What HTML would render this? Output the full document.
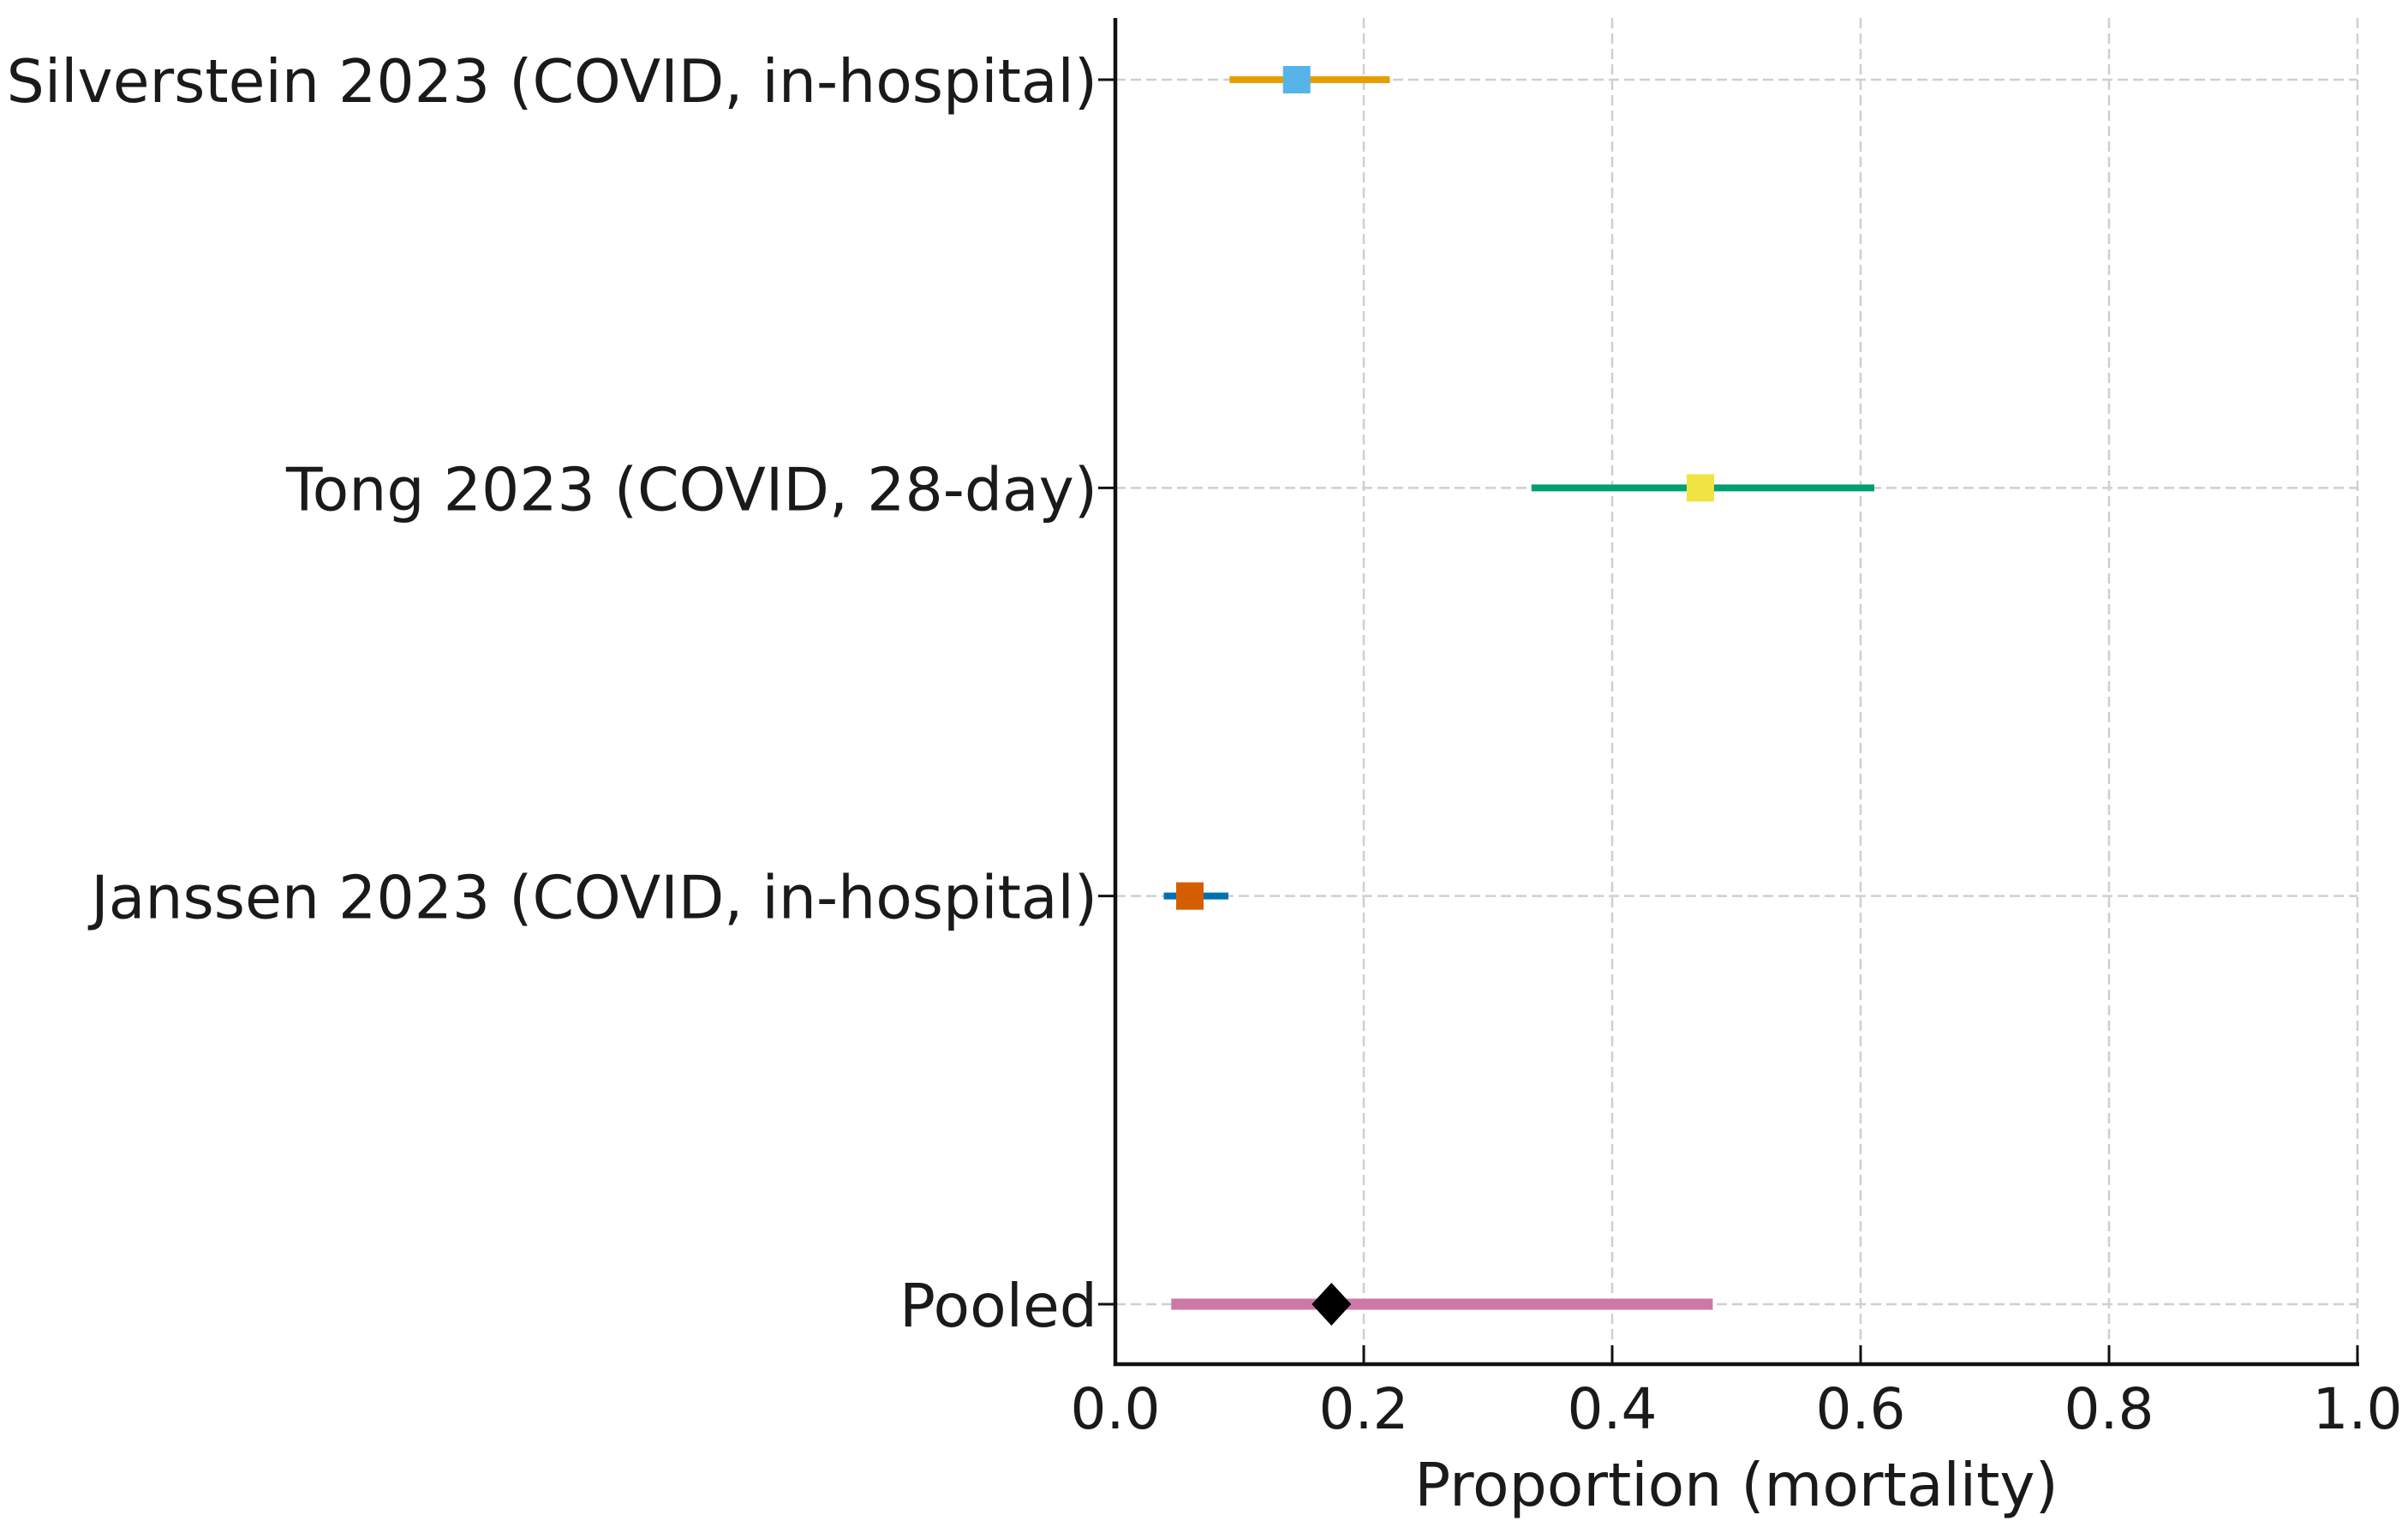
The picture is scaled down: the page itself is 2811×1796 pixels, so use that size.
<!DOCTYPE html>
<html><head><meta charset="utf-8"><style>
html,body{margin:0;padding:0;background:#fff;}
svg text{font-family:"DejaVu Sans","Liberation Sans",sans-serif;fill:#1a1a1a;}
</style></head><body>
<svg id="chart" width="2811" height="1791" viewBox="0 0 2811 1791" xmlns="http://www.w3.org/2000/svg"></svg>
<script>
const studies = ["Silverstein 2023 (COVID, in-hospital)","Tong 2023 (COVID, 28-day)","Janssen 2023 (COVID, in-hospital)","Pooled"];
const estimates = [0.146, 0.471, 0.060, 0.174];
const lowerCI = [0.092, 0.335, 0.039, 0.045];
const upperCI = [0.221, 0.611, 0.091, 0.481];
const lineColors = ["#E69F00","#009E73","#0072B2","#CC79A7"];
const markerColors = ["#56B4E9","#F0E442","#D55E00","#000000"];
const xTicks = [0,0.2,0.4,0.6,0.8,1.0];
const xTickLabels = ["0.0","0.2","0.4","0.6","0.8","1.0"];

const svg = document.getElementById('chart');
const NS = "http://www.w3.org/2000/svg";
const X0 = 1302, X1 = 2752, YTOP = 21, YBOT = 1592;
const rowY = [93, 570, 1045, 1522];
function xs(v){ return X0 + v*(X1-X0); }
function ys(i){ return rowY[0] + i*(rowY[3]-rowY[0])/(studies.length-1); }
function mk(tag, attrs){ const e=document.createElementNS(NS,tag); for(const k in attrs) e.setAttribute(k,attrs[k]); svg.appendChild(e); return e; }

xTicks.forEach((t,i)=>{
  const g = mk('line',{x1:xs(t),x2:xs(t),y1:YTOP,y2:YBOT,stroke:'#cfcfcf','stroke-width':2.5,'stroke-dasharray':'12,6'});
  
  
});
studies.forEach((s,i)=>{
  const g = mk('line',{x1:X0,x2:X1,y1:ys(i),y2:ys(i),stroke:'#cfcfcf','stroke-width':2.5,'stroke-dasharray':'12,6'});
  
  
});
let a = mk('line',{x1:X0,x2:X0,y1:YTOP,y2:YBOT+2,stroke:'#111','stroke-width':4.5});


a = mk('line',{x1:X0-2,x2:X1+2,y1:YBOT,y2:YBOT,stroke:'#111','stroke-width':4.5});


xTicks.forEach((t,i)=>{
  const tk = mk('line',{x1:xs(t),x2:xs(t),y1:YBOT,y2:YBOT-22,stroke:'#111','stroke-width':3});
  
  
  const tl = mk('text',{x:xs(t),y:1667,'font-size':66,'text-anchor':'middle'});
  tl.textContent = xTickLabels[i];
  
  
});
studies.forEach((s,i)=>{
  const tk = mk('line',{x1:X0-20,x2:X0,y1:ys(i),y2:ys(i),stroke:'#111','stroke-width':3});
  
  
  const tl = mk('text',{x:1281,y:ys(i)+26,'font-size':69.6,'text-anchor':'end'});
  tl.textContent = s;
  
  
});
studies.forEach((s,i)=>{
  const y = ys(i);
  const ci = mk('line',{x1:xs(lowerCI[i]),x2:xs(upperCI[i]),y1:y,y2:y,stroke:lineColors[i],'stroke-width': i===3?13:8});
  
  
  const cx = xs(estimates[i]);
  let m;
  if(i===3){
    m = mk('polygon',{points:`${cx},${y-25} ${cx+23},${y} ${cx},${y+25} ${cx-23},${y}`,fill:markerColors[i]});
    
  } else {
    m = mk('rect',{x:cx-16,y:y-16,width:32,height:32,fill:markerColors[i]});
    
  }
  
});
const xt = mk('text',{x:(X0+X1)/2,y:1757,'font-size':69.6,'text-anchor':'middle'});
xt.textContent = 'Proportion (mortality)';


</script>
</body></html>
